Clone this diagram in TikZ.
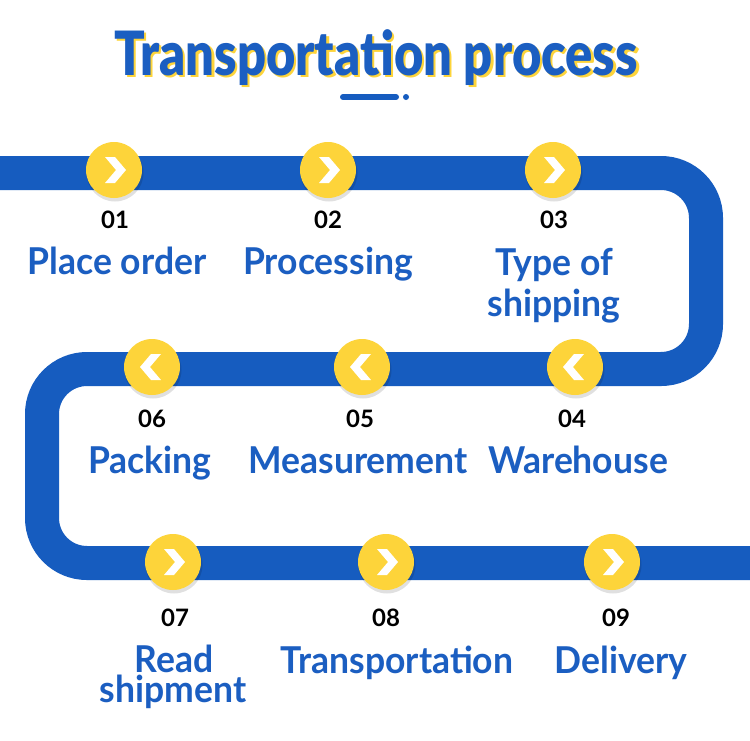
\documentclass[tikz,border=0pt]{standalone}
\usepackage{fontspec}
\setmainfont{Lato}
\newfontfamily\titlefont{Lato Black}
\definecolor{bandblue}{HTML}{165CBF}
\definecolor{txtblue}{HTML}{1B5EC1}
\definecolor{ylw}{HTML}{FDD43A}
\newcommand\sqz[1]{\scalebox{0.96}[1]{#1}}
\newcommand\ttlsqz[1]{\scalebox{0.83}[1]{#1}}
\tikzset{
  stepcircle/.style={circle, fill=ylw, minimum size=56pt, inner sep=0pt},
  numtext/.style={font=\fontsize{24}{24}\selectfont\bfseries, text=black, anchor=base, inner sep=0pt},
  labtext/.style={font=\fontsize{37}{37}\selectfont\bfseries, text=txtblue, anchor=base, inner sep=0pt},
  titletext/.style={font=\fontsize{61}{61}\titlefont, anchor=base, inner sep=0pt},
  chevright/.pic={\fill[white] (-9,-13) -- (1,-13) -- (12,0) -- (1,13) -- (-9,13) -- (2,0) -- cycle;},
  chevleft/.pic={\fill[white] (9,-13) -- (-1,-13) -- (-12,0) -- (-1,13) -- (9,13) -- (-2,0) -- cycle;},
  shadowc/.style={fill=black, opacity=0.12},
}
\begin{document}
\begin{tikzpicture}[x=1pt,y=-1pt]
\useasboundingbox (0,0) rectangle (750,740);
\fill[white] (0,0) rectangle (750,740);
% title
\node[titletext, text=ylw] (titleshadow) at (378.5,77.5) {\ttlsqz{Transportation process}};
\node[titletext, text=txtblue] (title) at (376,75) {\ttlsqz{Transportation process}};
\coordinate (ul1) at (343,97);
\coordinate (ul2) at (396,97);
\draw[bandblue, line width=6pt, line cap=round] (ul1) -- (ul2);
\fill[bandblue] (406,97) circle (3);
% band
\draw[bandblue, line width=34pt, rounded corners=45pt]
  (0,173) -- (706,173) -- (706,369) -- (42,369) -- (42,563) -- (750,563);
% circles
\foreach \n/\x/\y/\d in {1/114/170/right, 2/328/170/right, 3/553/170/right,
                          4/575/367/left, 5/362/367/left, 6/152/367/left,
                          7/173/562/right, 8/386/562/right, 9/612/562/right}{
  \fill[shadowc] (\x+1,\y+3) circle (28.5);
  \node[stepcircle] (c\n) at (\x,\y) {};
  \pic at (c\n) {chev\d};
}
% numbers
\node[numtext] (n1) at (115,228) {01};
\node[numtext] (n2) at (328,228) {02};
\node[numtext] (n3) at (554,228) {03};
\node[numtext] (n6) at (152,427) {06};
\node[numtext] (n5) at (360,427) {05};
\node[numtext] (n4) at (572,427) {04};
\node[numtext] (n7) at (175,626) {07};
\node[numtext] (n8) at (386,626) {08};
\node[numtext] (n9) at (616,626) {09};
% labels
\node[labtext] (l1) at (117,274) {\sqz{Place order}};
\node[labtext] (l2) at (328,274) {\sqz{Processing}};
\node[labtext] (l3a) at (554,275) {\sqz{Type of}};
\node[labtext] (l3b) at (554,316) {\sqz{shipping}};
\node[labtext] (l6) at (150,473) {\sqz{Packing}};
\node[labtext] (l5) at (358,473) {\sqz{Measurement}};
\node[labtext] (l4) at (578,473) {\sqz{Warehouse}};
\node[labtext] (l7a) at (174,672) {\sqz{Read}};
\node[labtext] (l7b) at (173,702) {\sqz{shipment}};
\node[labtext] (l8) at (397,673) {\sqz{Transportation}};
\node[labtext] (l9) at (621,673) {\sqz{Delivery}};
\end{tikzpicture}
\end{document}
